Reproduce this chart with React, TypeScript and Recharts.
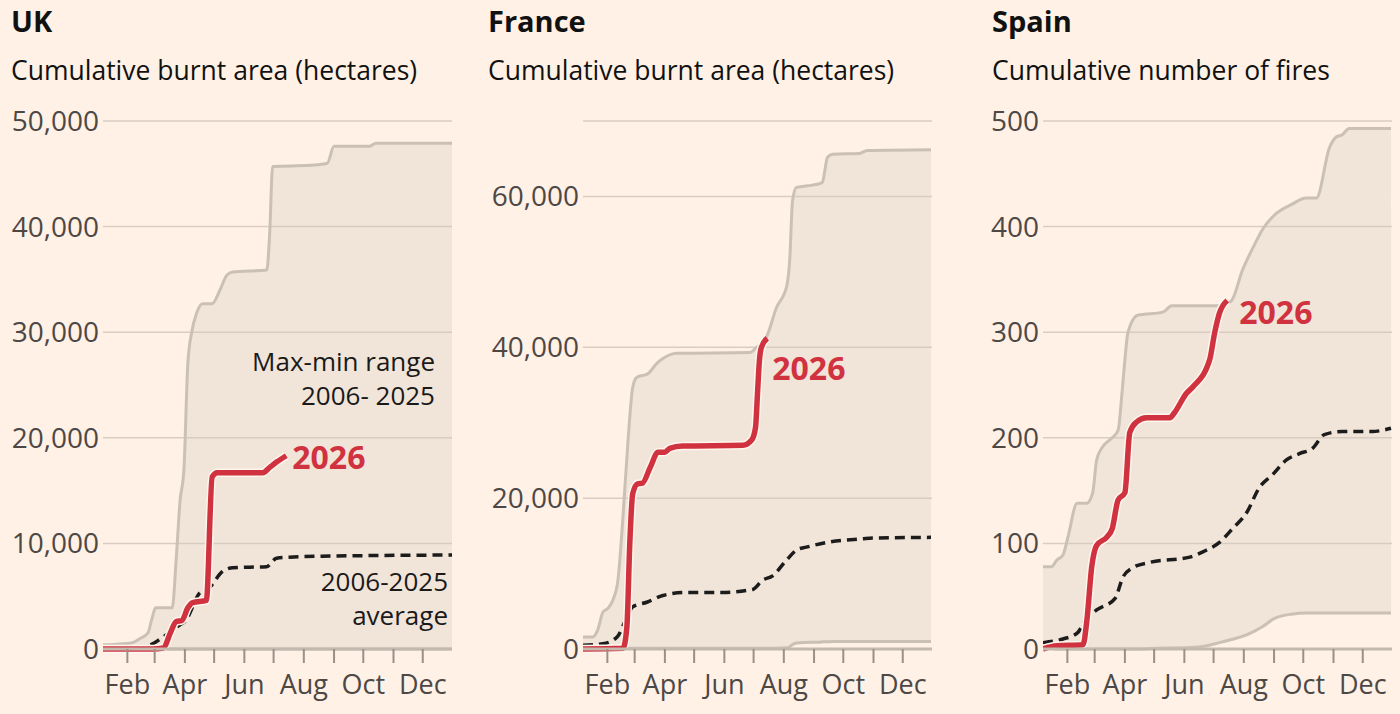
import React from 'react';
import { ComposedChart, Area, Line, XAxis, YAxis, CartesianGrid, LabelList } from 'recharts';

// x values are day of year (Jan 1 = 0)
const MONTH_TICKS = [31, 59, 90, 120, 151, 181, 212, 243, 273, 304, 334];
const MONTH_LABELS: Record<number, string> = { 31: 'Feb', 90: 'Apr', 151: 'Jun', 212: 'Aug', 273: 'Oct', 334: 'Dec' };

// UK
const ukBandDays = [6, 20, 36, 44, 52, 56, 60, 77, 81, 85, 89, 93, 97, 102, 108, 118, 126, 133, 139, 174, 177, 180, 218, 236, 243, 279, 286, 364];
const ukBandMax = [400, 450, 600, 1000, 1500, 2800, 3900, 3900, 8400, 14000, 17000, 27000, 30000, 31800, 32700, 32700, 34000, 35400, 35700, 35900, 39400, 45700, 45800, 46000, 47600, 47600, 47900, 47900];
const ukBandMin = [0, 0, 0, 0, 0, 0, 0, 0, 0, 0, 0, 0, 0, 0, 0, 0, 0, 0, 0, 0, 0, 0, 0, 0, 0, 0, 0, 0];
const ukAvgDays = [6, 40, 52, 59, 64, 85, 90, 105, 116, 128, 139, 174, 184, 197, 241, 364];
const ukAvg = [0, 100, 300, 600, 900, 2300, 2600, 5300, 5900, 7300, 7700, 7800, 8600, 8700, 8800, 8900];
const uk2026Days = [6, 57, 68, 75, 81, 87, 93, 98, 112, 118, 123, 170, 177, 184, 194];
const uk2026 = [0, 0, 100, 1500, 2600, 2700, 3900, 4400, 4600, 16300, 16700, 16700, 17200, 17700, 18300];
const ukTicks = [0, 10000, 20000, 30000, 40000, 50000];

// France
const frBandDays = [6, 16, 21, 26.5, 31.6, 36.7, 41.8, 47, 52, 57, 61, 72.5, 82, 88, 102, 177, 184, 194, 204.6, 214.8, 218, 221, 225, 241, 248.6, 251.6, 256.8, 262, 289.5, 297.7, 363];
const frBandMax = [1600, 1600, 2500, 4900, 5400, 6500, 9100, 17500, 27300, 34700, 36000, 36500, 37900, 38500, 39200, 39300, 40000, 41300, 45300, 48000, 51500, 59500, 61200, 61500, 61700, 61900, 65200, 65600, 65700, 66100, 66200];
const frBandMin = [100, 100, 100, 100, 100, 100, 100, 100, 100, 100, 100, 100, 100, 100, 100, 100, 100, 100, 100, 150, 300, 600, 800, 900, 900, 950, 950, 1000, 1000, 1000, 1000];
const frAvgDays = [6, 26.5, 41, 51, 57, 71.5, 88, 112, 149, 180, 190, 200.5, 214.8, 226, 235, 259, 292.6, 303, 363];
const frAvg = [500, 700, 1600, 4200, 5600, 6200, 7100, 7500, 7500, 7900, 9100, 9700, 11800, 13200, 13500, 14200, 14600, 14700, 14800];
const fr2026Days = [6, 47, 51, 54, 57, 62, 67, 75, 83, 90, 95, 108, 170, 179, 183, 185, 187, 189, 195];
const fr2026 = [0, 100, 2900, 14000, 20600, 21900, 22000, 24100, 26100, 26100, 26600, 26900, 27000, 27700, 29400, 33900, 38300, 40000, 41200];
const frTicks = [0, 20000, 40000, 60000];

// Spain
const esBandDays = [6, 15, 20, 26.5, 31.6, 41, 51, 57, 61, 66, 77, 83, 87, 90, 93, 103, 129, 138, 166, 187, 199.4, 210.7, 223, 231, 243.5, 261, 276, 286.4, 300, 307, 313, 320, 363];
const esBandMax = [78, 78, 84, 89, 106, 138, 138, 148, 179, 190, 200, 207, 242, 274, 299, 316, 319, 325, 325, 325, 330, 359, 383, 397, 411, 421, 427, 427, 475, 485, 487, 493, 493];
const esBandMin = [0, 0, 0, 0, 0, 0, 0, 0, 0, 0, 0, 0, 0, 0, 0, 0, 1, 1, 2, 6, 9, 12, 17, 21, 29, 33, 34, 34, 34, 34, 34, 34, 34];
const esAvgDays = [6, 26.5, 41, 51, 61, 80, 88, 98, 115.5, 156.5, 170, 187, 200.5, 214.8, 228, 241.4, 255.7, 269, 282.4, 294.6, 313, 343.7, 363];
const esAvg = [6, 9.5, 15, 29, 37, 48, 68, 77, 82, 87, 92, 101, 114, 129, 153, 165, 179, 185, 190, 203, 206, 206, 209];
const es2026Days = [6, 20, 47, 51, 56, 61, 71.5, 77, 83, 90, 95, 102, 112, 136, 141, 153, 159.5, 177, 182, 187, 195];
const es2026 = [0, 3, 4, 27, 78, 98, 106, 114, 141, 148, 205, 215, 219, 219, 224, 242, 248, 274, 299, 318, 330];
const esTicks = [0, 100, 200, 300, 400, 500];

const BG = '#fff1e5';
const BAND = '#d7ccc2';
const EDGE = '#cbc0b6';
const GRID = '#d9cdc2';
const RED = '#d0323f';
const FONT = '"Open Sans", sans-serif';

type PanelProps = {
  left: number;
  width: number;
  rightMargin: number;
  bandDays: number[];
  bandMax: number[];
  bandMin: number[];
  avgDays: number[];
  avg: number[];
  curDays: number[];
  cur: number[];
  yTicks: number[];
  yMax: number;
  labelDx: number;
  labelDy: number;
};

const Panel: React.FC<PanelProps> = (p) => {
  const band = p.bandDays.map((d, i) => ({ day: d, max: p.bandMax[i], min: p.bandMin[i], range: [p.bandMin[i], p.bandMax[i]] }));
  const avg = p.avgDays.map((d, i) => ({ day: d, v: p.avg[i] }));
  const cur = p.curDays.map((d, i) => ({ day: d, v: p.cur[i] }));
  const last = cur.length - 1;

  const yearLabel = (props: any) => {
    if (props.index !== last) return null;
    return (
      <text x={props.x + p.labelDx} y={props.y + p.labelDy} fill={RED} fontSize={32} fontWeight={700} dominantBaseline="central" fontFamily={FONT}>
        2026
      </text>
    );
  };

  return (
    <div style={{ position: 'absolute', left: p.left, top: 0 }}>
      <ComposedChart width={p.width} height={714} margin={{ top: 121, right: p.rightMargin, bottom: 0, left: 0 }}>
        <CartesianGrid vertical={false} stroke={GRID} strokeWidth={1.5} />
        <XAxis
          type="number"
          dataKey="day"
          domain={[6, 364]}
          allowDataOverflow
          ticks={MONTH_TICKS}
          interval={0}
          tickFormatter={(v: number) => MONTH_LABELS[v] || ''}
          height={65}
          tickSize={14}
          tickMargin={12}
          axisLine={{ stroke: '#c4b9af', strokeWidth: 3 }}
          tickLine={{ stroke: '#9a9088', strokeWidth: 2 }}
          tick={{ fill: '#4d4845', fontSize: 27 }}
        />
        <YAxis
          type="number"
          domain={[0, p.yMax]}
          ticks={p.yTicks}
          width={103}
          axisLine={false}
          tickLine={false}
          tickSize={2}
          tickMargin={2}
          tickFormatter={(v: number) => v.toLocaleString('en-US')}
          tick={{ fill: '#4d4845', fontSize: 28 }}
        />
        <Area data={band} dataKey="range" type="monotone" fill={BAND} fillOpacity={0.35} stroke="none" isAnimationActive={false} />
        <Line data={band} dataKey="min" type="monotone" stroke={EDGE} strokeWidth={3} dot={false} activeDot={false} isAnimationActive={false} />
        <Line data={band} dataKey="max" type="monotone" stroke={EDGE} strokeWidth={3} dot={false} activeDot={false} isAnimationActive={false} />
        <Line data={avg} dataKey="v" type="monotone" stroke="#1c1c1c" strokeWidth={3.5} strokeDasharray="10 6" dot={false} activeDot={false} isAnimationActive={false} />
        <Line data={cur} dataKey="v" type="monotone" stroke="#fff6ee" strokeWidth={8.5} dot={false} activeDot={false} isAnimationActive={false} />
        <Line data={cur} dataKey="v" type="monotone" stroke={RED} strokeWidth={5.5} dot={false} activeDot={false} isAnimationActive={false}>
          <LabelList dataKey="v" content={yearLabel} />
        </Line>
      </ComposedChart>
    </div>
  );
};

const Heading: React.FC<{ x: number; title: string; sub: string }> = ({ x, title, sub }) => (
  <g>
    <text x={x} y={32} fontSize={29} fontWeight={700} fill="#111">{title}</text>
    <text x={x} y={80} fontSize={26.5} fill="#111">{sub}</text>
  </g>
);

export default function App() {
  return (
    <div style={{ position: 'absolute', left: 0, top: 0, width: 1400, height: 714, background: BG, overflow: 'hidden', fontFamily: FONT }}>
      <Panel left={0} width={470} rightMargin={18} bandDays={ukBandDays} bandMax={ukBandMax} bandMin={ukBandMin}
        avgDays={ukAvgDays} avg={ukAvg} curDays={uk2026Days} cur={uk2026} yTicks={ukTicks} yMax={50000} labelDx={6} labelDy={1} />
      <Panel left={480} width={470} rightMargin={18} bandDays={frBandDays} bandMax={frBandMax} bandMin={frBandMin}
        avgDays={frAvgDays} avg={frAvg} curDays={fr2026Days} cur={fr2026} yTicks={frTicks} yMax={70000} labelDx={5} labelDy={29} />
      <Panel left={940} width={460} rightMargin={8} bandDays={esBandDays} bandMax={esBandMax} bandMin={esBandMin}
        avgDays={esAvgDays} avg={esAvg} curDays={es2026Days} cur={es2026} yTicks={esTicks} yMax={500} labelDx={12} labelDy={11} />
      <svg width={1400} height={714} style={{ position: 'absolute', left: 0, top: 0, pointerEvents: 'none' }} fontFamily={FONT}>
        <Heading x={11} title="UK" sub="Cumulative burnt area (hectares)" />
        <Heading x={488} title="France" sub="Cumulative burnt area (hectares)" />
        <Heading x={992} title="Spain" sub="Cumulative number of fires" />
        <g fontSize={26} fill="#1a1a1a" textAnchor="end" dominantBaseline="central">
          <text x={435} y={361}>Max-min range</text>
          <text x={435} y={395}>2006- 2025</text>
          <text x={448} y={581}>2006-2025</text>
          <text x={448} y={615}>average</text>
        </g>
      </svg>
    </div>
  );
}
